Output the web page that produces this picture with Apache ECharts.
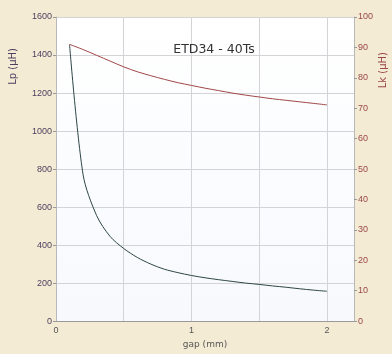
<!DOCTYPE html>
<html>
<head>
<meta charset="utf-8">
<script src="https://cdn.jsdelivr.net/npm/echarts@6/dist/echarts.min.js"></script>
<style>
html,body{margin:0;padding:0;background:#f3ebd3;}
#c{width:392px;height:354px;}
</style>
</head>
<body>
<div id="c"></div>
<script>
var gap = [0.1,0.2,0.3,0.4,0.5,0.6,0.7,0.8,0.9,1.0,1.1,1.2,1.3,1.4,1.5,1.6,1.7,1.8,1.9,2.0];
var lp = [1455,770,555,445,382,335,300,273,255,240,228,218,209,200,193,185,178,170,163,157];
var lk = [91,89.3,87.4,85.5,83.6,82,80.7,79.5,78.4,77.5,76.6,75.8,75,74.3,73.7,73.1,72.6,72.1,71.6,71.1];
var xTicksShown = [0,1,2];
var title = "ETD34 - 40Ts";

var chart = echarts.init(document.getElementById('c'));
chart.setOption({
  backgroundColor: '#f3ebd3',
  animation: false,
  title: {text: title, left: 209, top: 38, textAlign: 'center',
    textStyle: {fontSize: 12.5, fontWeight: 'normal', color: '#333', fontFamily: 'DejaVu Sans'}},
  grid: {left: 56, right: 38, top: 17, bottom: 30, show: true,
    backgroundColor: {type:'linear', x:0, y:0, x2:0, y2:1,
      colorStops:[{offset:0,color:'#ffffff'},{offset:1,color:'#f7f9fd'}]},
    borderWidth: 0},
  graphic: [
    {type:'text', left: 8, top: 48, rotation: Math.PI/2,
      style:{text:'Lp (µH)', fill:'#4e3e60', font:'10px "DejaVu Sans"'}},
    {type:'text', left: 378, top: 52, rotation: Math.PI/2,
      style:{text:'Lk (µH)', fill:'#9a4848', font:'10px "DejaVu Sans"'}}
  ],
  xAxis: {
    type: 'value', min: 0, max: 2.2, interval: 0.5,
    name: 'gap (mm)', nameLocation: 'middle', nameGap: 16,
    nameTextStyle: {fontSize: 9, color: '#555', fontFamily: 'DejaVu Sans'},
    axisLine: {lineStyle: {color: '#9a9a9a'}},
    axisTick: {show: false},
    axisLabel: {fontSize: 9, color: '#555', margin: 5,
      formatter: function(v){ return xTicksShown.indexOf(v) >= 0 ? String(v) : ''; }},
    splitLine: {show: true, lineStyle: {color: '#d4d4d8'}}
  },
  yAxis: [
    {type:'value', min:0, max:1600, interval:200, position:'left',
      axisLine:{show:true, lineStyle:{color:'#b8b8b8'}},
      axisTick:{show:true, length:3, lineStyle:{color:'#999'}},
      axisLabel:{fontSize:9, color:'#4e3e60', margin:4, formatter:function(v){return String(v);}},
      splitLine:{show:true, lineStyle:{color:'#d4d4d8'}}},
    {type:'value', min:0, max:100, interval:10, position:'right',
      axisLine:{show:true, lineStyle:{color:'#b8b8b8'}},
      axisTick:{show:true, length:3, lineStyle:{color:'#999'}},
      axisLabel:{fontSize:9, color:'#9a4848', margin:4},
      splitLine:{show:false}}
  ],
  series: [
    {type:'line', name:'Lp', yAxisIndex:0, data: gap.map(function(g,i){return [g, lp[i]];}),
      showSymbol:false, smooth:0.3, lineStyle:{color:'#2e4646', width:1}},
    {type:'line', name:'Lk', yAxisIndex:1, data: gap.map(function(g,i){return [g, lk[i]];}),
      showSymbol:false, smooth:0.3, lineStyle:{color:'#a04848', width:1}}
  ]
});
</script>
</body>
</html>
